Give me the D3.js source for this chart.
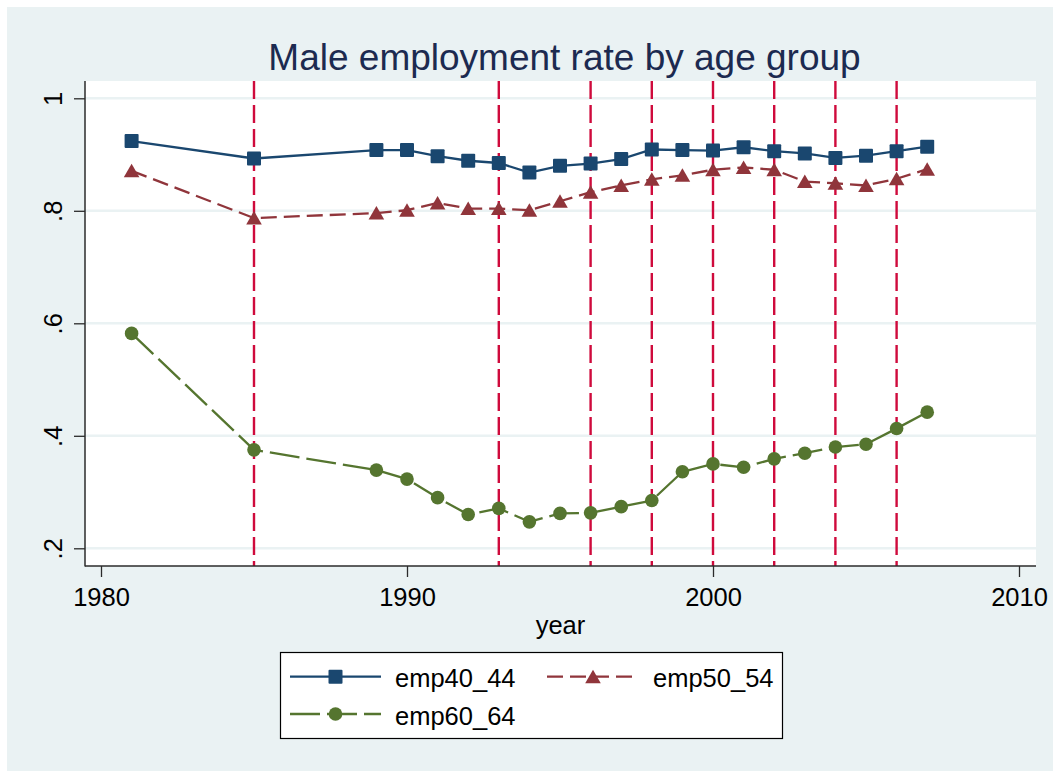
<!DOCTYPE html>
<html>
<head>
<meta charset="utf-8">
<script src="https://cdn.jsdelivr.net/npm/d3@7"></script>
<style>
  html, body { margin: 0; padding: 0; background: #ffffff; }
  svg { display: block; }
  text { font-family: "Liberation Sans", Arial, Helvetica, sans-serif; }
</style>
</head>
<body>
<div id="chart"></div>
<script>
// ---------------- data ----------------
const years = [1981, 1985, 1989, 1990, 1991, 1992, 1993, 1994, 1995, 1996, 1997,
               1998, 1999, 2000, 2001, 2002, 2003, 2004, 2005, 2006, 2007];
const emp40_44 = [0.924, 0.893, 0.908, 0.908, 0.897, 0.889, 0.885, 0.868, 0.880, 0.884, 0.892,
                  0.909, 0.908, 0.907, 0.913, 0.906, 0.902, 0.894, 0.898, 0.906, 0.914];
const emp50_54 = [0.871, 0.787, 0.796, 0.801, 0.814, 0.804, 0.804, 0.801, 0.817, 0.833, 0.845,
                  0.856, 0.863, 0.873, 0.877, 0.873, 0.852, 0.849, 0.845, 0.857, 0.874];
const emp60_64 = [0.582, 0.375, 0.339, 0.323, 0.290, 0.260, 0.271, 0.247, 0.262, 0.263, 0.274,
                  0.285, 0.336, 0.350, 0.344, 0.359, 0.369, 0.380, 0.385, 0.413, 0.442];
const seriesNames = ["emp40_44", "emp50_54", "emp60_64"];
const xlineYears = [1985, 1993, 1996, 1998, 2000, 2002, 2004, 2006];
const xTicks = [1980, 1990, 2000, 2010];
const yTicks = [0.2, 0.4, 0.6, 0.8, 1];
const yTickLabels = [".2", ".4", ".6", ".8", "1"];
const titleText = "Male employment rate by age group";
const xTitle = "year";

// ---------------- styles ----------------
const W = 1053, H = 771;
const plot = { left: 85, right: 1036, top: 81, bottom: 566 };
const styles = {
  emp40_44: { color: "#1a476f", dash: null, marker: "square" },
  emp50_54: { color: "#90353b", dash: "16,7", marker: "triangle" },
  emp60_64: { color: "#55752f", dash: "30,7", marker: "circle" }
};
const seriesValues = { emp40_44, emp50_54, emp60_64 };

const svg = d3.select("#chart").append("svg")
  .attr("width", W).attr("height", H);

// backgrounds
svg.append("rect").attr("x", 0).attr("y", 0).attr("width", W).attr("height", H).attr("fill", "#ffffff");
svg.append("rect").attr("x", 7).attr("y", 7).attr("width", W - 7).attr("height", H - 7).attr("fill", "#eaf2f3");
svg.append("rect").attr("x", plot.left).attr("y", plot.top)
  .attr("width", plot.right - plot.left).attr("height", plot.bottom - plot.top).attr("fill", "#ffffff");

// scales
const x = d3.scaleLinear().domain([1980, 2010]).range([101, 1019]);
const y = d3.scaleLinear().domain([0.2, 1]).range([548.3, 98.3]);

// gridlines
svg.append("g").selectAll("line").data(yTicks).join("line")
  .attr("x1", plot.left).attr("x2", plot.right)
  .attr("y1", d => y(d)).attr("y2", d => y(d))
  .attr("stroke", "#eaf2f3").attr("stroke-width", 2.6);

// vertical reference lines
svg.append("g").selectAll("line").data(xlineYears).join("line")
  .attr("x1", d => x(d)).attr("x2", d => x(d))
  .attr("y1", plot.top).attr("y2", plot.bottom)
  .attr("stroke", "#cf0a3c").attr("stroke-width", 2.4)
  .attr("stroke-dasharray", "18,6");

// axes
const axisColor = "#2b2b2b";
const yAxis = svg.append("g").attr("transform", `translate(${plot.left},0)`)
  .call(d3.axisLeft(y).tickValues(yTicks).tickSize(11).tickSizeOuter(0)
        .tickFormat((d, i) => yTickLabels[i]));
yAxis.select(".domain").remove();
yAxis.selectAll(".tick line").attr("stroke", axisColor).attr("stroke-width", 1.3);
yAxis.selectAll(".tick text")
  .attr("transform", "rotate(-90)")
  .attr("x", 0).attr("y", -23).attr("dy", 0)
  .attr("text-anchor", "middle")
  .attr("fill", "#000").style("font-size", "25.5px")
  .style("font-family", '"Liberation Sans", Arial, sans-serif');

const xAxis = svg.append("g").attr("transform", `translate(0,${plot.bottom})`)
  .call(d3.axisBottom(x).tickValues(xTicks).tickSize(11).tickSizeOuter(0).tickFormat(d3.format("d")));
xAxis.select(".domain").remove();
xAxis.selectAll(".tick line").attr("stroke", axisColor).attr("stroke-width", 1.3);
xAxis.selectAll(".tick text")
  .attr("y", 40).attr("dy", 0)
  .attr("fill", "#000").style("font-size", "25.5px")
  .style("font-family", '"Liberation Sans", Arial, sans-serif');

svg.append("line").attr("x1", plot.left).attr("x2", plot.left)
  .attr("y1", plot.top).attr("y2", plot.bottom + 0.5)
  .attr("stroke", axisColor).attr("stroke-width", 1.5);
svg.append("line").attr("x1", plot.left).attr("x2", plot.right)
  .attr("y1", plot.bottom).attr("y2", plot.bottom)
  .attr("stroke", axisColor).attr("stroke-width", 1.5);

// marker drawing
function drawMarker(g, type, color) {
  if (type === "square") {
    g.append("rect").attr("x", -7).attr("y", -7).attr("width", 14).attr("height", 14)
      .attr("rx", 1).attr("fill", color);
  } else if (type === "triangle") {
    g.append("path").attr("d", "M0,-7 L7.8,6.5 L-7.8,6.5 Z").attr("fill", color);
  } else {
    g.append("circle").attr("r", 6.8).attr("fill", color);
  }
}

// series
const line = d3.line().x(d => x(d[0])).y(d => y(d[1]));
seriesNames.forEach(name => {
  const st = styles[name];
  const pts = years.map((yr, i) => [yr, seriesValues[name][i]]);
  svg.append("path").datum(pts).attr("d", line)
    .attr("fill", "none").attr("stroke", st.color).attr("stroke-width", 2.3)
    .attr("stroke-dasharray", st.dash);
  svg.append("g").selectAll("g").data(pts).join("g")
    .attr("transform", d => `translate(${x(d[0])},${y(d[1])})`)
    .each(function () { drawMarker(d3.select(this), st.marker, st.color); });
});

// title
svg.append("text").attr("x", 564.5).attr("y", 70).attr("text-anchor", "middle")
  .attr("fill", "#1c2a50").style("font-size", "37px").text(titleText);

// x axis title
svg.append("text").attr("x", 560.5).attr("y", 634).attr("text-anchor", "middle")
  .attr("fill", "#000").style("font-size", "25.5px").text(xTitle);

// legend
const legend = svg.append("g");
legend.append("rect").attr("x", 280.5).attr("y", 652.5).attr("width", 502).attr("height", 86)
  .attr("fill", "#ffffff").attr("stroke", "#000").attr("stroke-width", 1.2);
const legendPos = [
  { x0: 290, x1: 381, tx: 395, cy: 676.7, by: 687.3 },
  { x0: 547, x1: 639, tx: 653, cy: 676.7, by: 687.3 },
  { x0: 290, x1: 381, tx: 395, cy: 714, by: 724.5 }
];
seriesNames.forEach((name, i) => {
  const st = styles[name], p = legendPos[i];
  legend.append("line").attr("x1", p.x0).attr("x2", p.x1).attr("y1", p.cy).attr("y2", p.cy)
    .attr("stroke", st.color).attr("stroke-width", 2.3).attr("stroke-dasharray", st.dash);
  const mg = legend.append("g").attr("transform", `translate(${(p.x0 + p.x1) / 2},${p.cy})`);
  drawMarker(mg, st.marker, st.color);
  legend.append("text").attr("x", p.tx).attr("y", p.by).attr("fill", "#000")
    .style("font-size", "25.5px").text(name);
});
</script>
</body>
</html>
